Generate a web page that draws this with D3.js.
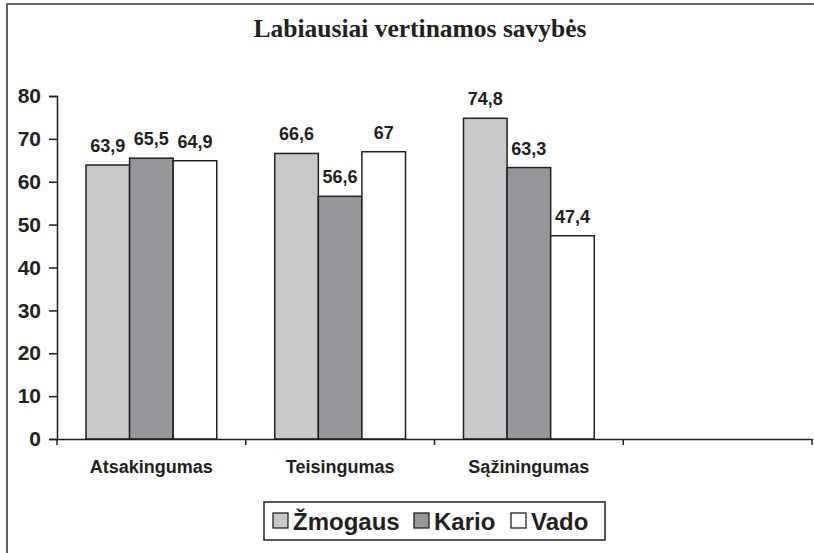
<!DOCTYPE html>
<html>
<head>
<meta charset="utf-8">
<script src="https://cdn.jsdelivr.net/npm/d3@7"></script>
<style>
  body { margin: 0; background: #fff; }
  text { fill: #231f20; }
</style>
</head>
<body>
<div id="chart"></div>
<script>
(function() {
  const categories = ['Atsakingumas', 'Teisingumas', 'Sąžiningumas', ''];
  const series = ['Žmogaus', 'Kario', 'Vado'];
  const zmogaus = [63.9, 66.6, 74.8];
  const kario = [65.5, 56.6, 63.3];
  const vado = [64.9, 67, 47.4];
  const yTicks = [0, 10, 20, 30, 40, 50, 60, 70, 80];
  const colors = ['#c8c9cb', '#96979a', '#ffffff'];

  const values = [zmogaus, kario, vado];

  const width = 814, height = 553;
  const margin = { top: 96, left: 57, right: 2, bottom: 114 };
  const sans = '"Liberation Sans", Arial, sans-serif';

  const svg = d3.select('#chart')
    .append('svg')
      .attr('width', width)
      .attr('height', height);

  // frame (only top + left show in the picture)
  svg.append('path')
    .attr('d', `M7,${height} V4 H${width}`)
    .attr('fill', 'none')
    .attr('stroke', '#3a3a3c')
    .attr('stroke-width', 1.6);

  svg.append('text')
    .attr('x', 420)
    .attr('y', 37)
    .attr('text-anchor', 'middle')
    .style('font-family', '"Liberation Serif", serif')
    .style('font-weight', 'bold')
    .style('font-size', '25.5px')
    .text('Labiausiai vertinamos savybės');

  const x = d3.scaleBand()
    .domain(d3.range(categories.length))
    .range([margin.left, width - margin.right])
    .padding(0);

  const xInner = d3.scaleBand()
    .domain(d3.range(series.length))
    .range([29, x.bandwidth() - 29])
    .padding(0);

  const y = d3.scaleLinear()
    .domain([0, 80])
    .range([height - margin.bottom, margin.top]);

  // y axis
  const yAxis = svg.append('g')
    .attr('transform', `translate(${margin.left},0)`)
    .call(d3.axisLeft(y).tickValues(yTicks).tickSize(8).tickPadding(8));
  yAxis.select('.domain').attr('stroke', '#231f20').attr('stroke-width', 1.5);
  yAxis.selectAll('.tick line').attr('stroke', '#231f20').attr('stroke-width', 1.5);
  yAxis.selectAll('.tick text')
    .style('font-family', sans)
    .style('font-weight', 'bold')
    .style('font-size', '21px')
    .attr('fill', '#231f20');

  // bars
  const rows = categories.slice(0, 3).map((c, i) => ({ i, vals: values.map(s => s[i]) }));

  const groups = svg.selectAll('.grp')
    .data(rows)
    .enter().append('g')
      .attr('class', 'grp')
      .attr('transform', d => `translate(${x(d.i)},0)`);

  groups.selectAll('rect')
    .data(d => d.vals.map((v, s) => ({ v, s })))
    .enter().append('rect')
      .attr('x', d => xInner(d.s))
      .attr('y', d => y(d.v))
      .attr('width', xInner.bandwidth())
      .attr('height', d => y(0) - y(d.v))
      .attr('fill', d => colors[d.s])
      .attr('stroke', '#231f20')
      .attr('stroke-width', 1.5);

  groups.selectAll('.lbl')
    .data(d => d.vals.map((v, s) => ({ v, s })))
    .enter().append('text')
      .attr('class', 'lbl')
      .attr('x', d => xInner(d.s) + xInner.bandwidth() / 2)
      .attr('y', d => y(d.v) - 13)
      .attr('text-anchor', 'middle')
      .style('font-family', sans)
      .style('font-weight', 'bold')
      .style('font-size', '18px')
      .text(d => String(d.v).replace('.', ','));

  // x axis
  const xAxis = svg.append('g')
    .attr('transform', `translate(0,${y(0)})`)
    .call(d3.axisBottom(x).tickValues([]).tickSizeOuter(0));
  xAxis.select('.domain').attr('stroke', '#231f20').attr('stroke-width', 1.5);

  const edges = d3.range(categories.length + 1).map(i => margin.left + i * x.bandwidth());
  xAxis.selectAll('.edge')
    .data(edges)
    .enter().append('line')
      .attr('class', 'edge')
      .attr('x1', d => d).attr('x2', d => d)
      .attr('y1', 0).attr('y2', 6)
      .attr('stroke', '#231f20')
      .attr('stroke-width', 1.5);

  xAxis.selectAll('.cat')
    .data(categories)
    .enter().append('text')
      .attr('class', 'cat')
      .attr('x', (d, i) => x(i) + x.bandwidth() / 2)
      .attr('y', 34)
      .attr('text-anchor', 'middle')
      .style('font-family', sans)
      .style('font-weight', 'bold')
      .style('font-size', '18px')
      .text(d => d);

  // legend
  const legend = svg.append('g').attr('transform', 'translate(264,502)');
  legend.append('rect')
    .attr('width', 341).attr('height', 38)
    .attr('fill', '#fff')
    .attr('stroke', '#231f20')
    .attr('stroke-width', 1.5);

  const legendX = [9, 150, 247];
  const items = legend.selectAll('.item')
    .data(series)
    .enter().append('g')
      .attr('class', 'item')
      .attr('transform', (d, i) => `translate(${legendX[i]},11)`);
  items.append('rect')
    .attr('width', 15).attr('height', 15)
    .attr('fill', (d, i) => colors[i])
    .attr('stroke', '#231f20')
    .attr('stroke-width', 1.3);
  items.append('text')
    .attr('x', 20)
    .attr('y', 17)
    .style('font-family', sans)
    .style('font-weight', 'bold')
    .style('font-size', '24px')
    .text(d => d);
})();
</script>
</body>
</html>
